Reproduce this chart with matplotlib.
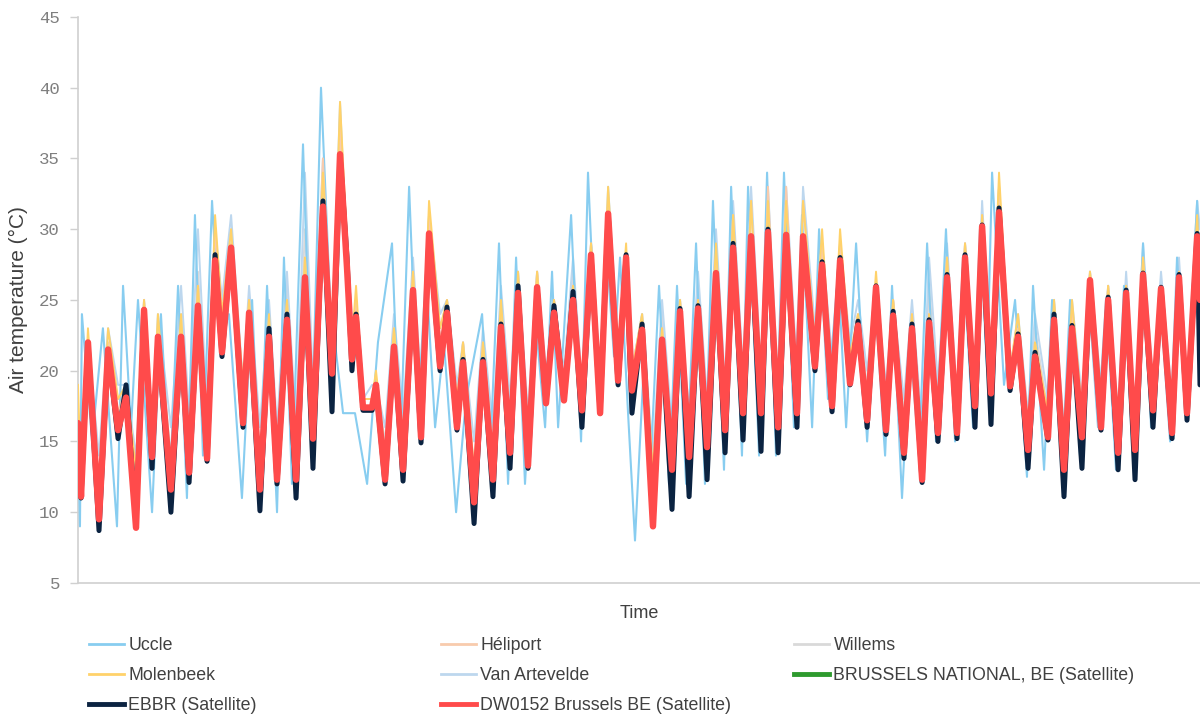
import numpy as np
import matplotlib
matplotlib.use("Agg")
import matplotlib.pyplot as plt
from matplotlib.lines import Line2D

# ---- data (time in days from start, temperature in degC) ----
# times of the daily highs / lows of the satellite series
t_sat = [0.00, 0.17, 0.56, 1.18, 1.69, 2.25, 2.70, 3.26, 3.71, 4.16,
         4.49, 5.22, 5.79, 6.24, 6.74, 7.25, 7.70, 8.09, 8.60, 9.27,
         9.61, 10.22, 10.73, 11.18, 11.74, 12.25, 12.75, 13.20, 13.76, 14.27,
         14.72, 15.11, 15.39, 15.62, 16.01, 16.52, 16.74, 17.25, 17.75, 18.26,
         18.82, 19.27, 19.72, 20.34, 20.73, 21.29, 21.63, 22.25, 22.75, 23.31,
         23.76, 24.27, 24.72, 25.28, 25.79, 26.29, 26.74, 27.30, 27.81, 28.31,
         28.82, 29.33, 29.78, 30.34, 30.79, 31.12, 31.69, 32.30, 32.81, 33.37,
         33.82, 34.33, 34.83, 35.34, 35.84, 36.35, 36.80, 37.36, 37.81, 38.37,
         38.76, 39.33, 39.78, 40.39, 40.73, 41.40, 41.80, 42.36, 42.81, 43.37,
         43.82, 44.33, 44.83, 45.39, 45.79, 46.40, 46.85, 47.42, 47.81, 48.31,
         48.82, 49.38, 49.83, 50.39, 50.79, 51.29, 51.74, 52.36, 52.81, 53.37,
         53.76, 54.49, 54.83, 55.39, 55.84, 56.40, 56.85, 57.47, 57.87, 58.43,
         58.88, 59.38, 59.83, 60.39, 60.84, 61.46, 61.85, 62.30, 62.87, 63.03]

dw0152 = [16.3, 11.1, 22.0, 9.5, 21.5, 15.8, 18.1, 8.9, 24.3, 13.9,
          22.4, 11.6, 22.4, 12.8, 24.6, 13.8, 27.8, 21.3, 28.7, 16.3,
          24.1, 11.6, 22.4, 12.3, 23.6, 12.3, 26.6, 15.2, 31.6, 19.8,
          35.3, 27.3, 20.8, 23.8, 17.4, 17.4, 19.0, 12.3, 21.7, 13.0,
          25.7, 15.3, 29.7, 20.3, 24.1, 16.0, 20.6, 10.7, 20.6, 12.3,
          23.1, 14.2, 25.5, 13.3, 25.9, 17.7, 24.1, 17.9, 25.0, 17.2,
          28.2, 17.0, 31.1, 19.3, 28.0, 18.6, 22.9, 9.0, 22.2, 13.0,
          24.2, 13.9, 24.4, 14.6, 26.9, 15.8, 28.7, 17.0, 29.5, 17.0,
          29.8, 16.0, 29.6, 17.0, 29.5, 20.3, 27.5, 17.5, 27.8, 19.1,
          23.2, 16.5, 25.9, 15.8, 23.9, 14.2, 23.0, 12.3, 23.4, 15.6,
          26.6, 15.6, 28.0, 17.5, 30.2, 18.4, 31.2, 18.9, 22.4, 14.4,
          21.0, 15.3, 23.6, 13.0, 23.0, 15.3, 26.4, 16.0, 25.0, 14.2,
          25.5, 14.4, 26.8, 17.2, 25.8, 15.6, 26.6, 17.0, 29.5, 25.0]

ebbr = [16.0, 11.0, 22.0, 8.7, 21.5, 15.2, 19.0, 9.2, 24.3, 13.1,
        22.4, 10.0, 22.4, 12.1, 24.6, 13.6, 28.2, 21.0, 28.7, 16.0,
        24.1, 10.1, 23.0, 12.0, 24.0, 11.0, 26.6, 13.1, 32.0, 17.1,
        35.3, 28.0, 20.0, 24.0, 17.2, 17.2, 19.0, 12.0, 21.7, 12.2,
        25.7, 14.9, 29.7, 20.0, 24.5, 15.8, 20.8, 9.2, 20.8, 11.1,
        23.3, 13.1, 26.0, 13.1, 25.9, 17.7, 24.6, 17.9, 25.6, 16.0,
        28.2, 17.0, 31.1, 19.0, 28.2, 17.0, 23.3, 9.2, 22.2, 10.2,
        24.4, 11.1, 24.6, 12.3, 26.9, 14.2, 29.0, 15.1, 29.5, 14.3,
        30.0, 14.2, 29.6, 16.0, 29.5, 20.0, 27.7, 17.1, 28.0, 19.0,
        23.5, 16.0, 26.0, 15.5, 24.2, 13.8, 23.3, 12.1, 23.6, 15.0,
        26.8, 15.2, 28.2, 16.0, 30.3, 16.2, 31.5, 18.6, 22.6, 13.1,
        21.3, 15.1, 24.0, 11.1, 23.2, 13.1, 26.4, 15.8, 25.2, 13.0,
        25.7, 12.3, 26.9, 16.0, 25.9, 15.2, 26.8, 16.5, 29.7, 19.0]

molenbeek = [19, 12, 23, 11, 23, 18, 19, 13, 25, 15,
             24, 13, 24, 14, 26, 15, 31, 24, 30, 19,
             25, 13, 24, 14, 25, 14, 28, 17, 34, 21,
             39, 29, 22, 26, 18, 18, 20, 14, 23, 15,
             27, 17, 32, 23, 25, 18, 22, 13, 22, 14,
             25, 16, 27, 15, 27, 19, 25, 19, 26, 18,
             29, 19, 33, 21, 29, 20, 24, 13, 23, 15,
             25, 15, 25, 16, 29, 17, 31, 18, 32, 18,
             32, 18, 32, 18, 32, 22, 30, 19, 30, 21,
             24, 18, 27, 17, 25, 16, 24, 14, 24, 17,
             28, 17, 29, 18, 31, 19, 34, 20, 24, 16,
             22, 17, 25, 15, 25, 17, 27, 18, 26, 16,
             26, 16, 28, 18, 26, 17, 27, 18, 31, 27]

van_artevelde = [17, 14, 22, 14, 23, 19, 19, 14, 25, 16,
                 24, 16, 26, 17, 30, 17, 30, 25, 31, 19,
                 26, 16, 25, 16, 27, 16, 34, 19, 35, 22,
                 39, 28, 21, 25, 18, 19, 19, 16, 24, 17,
                 28, 19, 31, 24, 25, 19, 22, 15, 23, 16,
                 26, 18, 27, 17, 27, 20, 25, 20, 28, 19,
                 29, 20, 33, 22, 27, 20, 24, 14, 25, 16,
                 25, 17, 27, 18, 30, 19, 32, 20, 33, 20,
                 33, 19, 33, 20, 33, 23, 29, 21, 29, 22,
                 25, 20, 26, 19, 25, 18, 25, 16, 28, 19,
                 29, 18, 29, 19, 32, 20, 33, 20, 24, 17,
                 24, 18, 25, 16, 25, 18, 27, 19, 26, 17,
                 27, 17, 29, 19, 27, 18, 28, 19, 32, 30]

heliport = [17, 12, 22, 11, 22, 17, 19, 12, 25, 15,
            23, 13, 23, 14, 26, 15, 30, 23, 29, 18,
            25, 13, 23, 14, 25, 14, 28, 17, 35, 21,
            37, 28, 22, 25, 18, 18, 19, 14, 23, 15,
            27, 17, 31, 22, 25, 17, 22, 12, 22, 14,
            24, 16, 26, 15, 27, 19, 25, 19, 26, 18,
            29, 18, 32, 21, 28, 20, 23, 12, 23, 14,
            25, 15, 25, 16, 28, 17, 31, 18, 32, 18,
            33, 17, 33, 18, 32, 22, 29, 19, 29, 21,
            24, 18, 26, 17, 25, 16, 24, 14, 24, 17,
            28, 17, 29, 18, 31, 19, 33, 19, 23, 16,
            22, 17, 24, 14, 24, 16, 27, 17, 26, 16,
            26, 16, 28, 18, 26, 17, 27, 18, 30, 27]

willems = [17, 13, 22, 12, 22, 18, 19, 13, 25, 15,
           23, 14, 24, 15, 27, 16, 30, 24, 30, 18,
           25, 14, 24, 15, 26, 15, 30, 18, 34, 21,
           38, 28, 22, 25, 18, 18, 19, 15, 23, 16,
           27, 18, 31, 23, 25, 18, 22, 13, 22, 15,
           25, 17, 27, 16, 27, 19, 25, 19, 27, 18,
           29, 19, 32, 21, 28, 20, 24, 13, 24, 15,
           25, 16, 26, 17, 29, 18, 31, 19, 32, 19,
           32, 18, 32, 19, 32, 22, 29, 20, 29, 21,
           24, 19, 26, 18, 25, 17, 24, 15, 26, 18,
           28, 17, 29, 18, 31, 19, 33, 20, 23, 16,
           23, 17, 25, 15, 24, 17, 27, 18, 26, 16,
           26, 16, 28, 18, 26, 17, 27, 18, 31, 28]

# Uccle has its own timing
t_uccle = [0.00, 0.11, 0.22, 0.79, 1.40, 2.19, 2.53, 2.98, 3.37, 4.16,
           4.66, 5.17, 5.62, 6.12, 6.57, 7.02, 7.53, 7.98, 8.48, 8.82,
           9.21, 9.78, 10.22, 10.62, 11.18, 11.57, 12.02, 12.64, 13.15, 13.65,
           14.16, 14.89, 15.56, 16.24, 16.85, 17.64, 18.09, 18.60, 19.10, 19.55,
           20.06, 20.56, 21.24, 21.80, 22.70, 23.15, 23.65, 24.16, 24.61, 25.11,
           25.67, 26.24, 26.63, 26.97, 27.70, 28.26, 28.65, 29.21, 29.72, 30.11,
           30.45, 30.90, 31.29, 31.85, 32.19, 32.64, 33.20, 33.65, 34.16, 34.72,
           35.22, 35.67, 36.29, 36.69, 37.30, 37.64, 38.26, 38.71, 39.21, 39.66,
           40.22, 40.67, 41.24, 41.63, 42.13, 42.70, 43.15, 43.71, 44.33, 44.78,
           45.34, 45.73, 46.29, 46.74, 47.25, 47.70, 48.20, 48.76, 49.27, 49.72,
           50.28, 50.67, 51.07, 51.35, 52.02, 52.64, 53.31, 53.65, 54.27, 54.72,
           55.28, 55.73, 56.29, 56.74, 57.30, 57.75, 58.31, 58.76, 59.27, 59.83,
           60.28, 60.79, 61.35, 61.74, 62.25, 62.87, 63.03]
uccle = [16, 9, 24, 15, 23, 9, 26, 16, 25, 10,
         24, 12, 26, 11, 31, 14, 32, 22, 24, 18,
         11, 25, 12, 26, 10, 28, 12, 36, 16, 40,
         25, 17, 17, 12, 22, 29, 14, 33, 17, 27,
         16, 22, 10, 18, 24, 14, 29, 12, 28, 12,
         24, 16, 27, 16, 31, 15, 34, 18, 28, 21,
         28, 17, 8, 22, 14, 26, 12, 26, 12, 29,
         12, 32, 13, 33, 14, 33, 14, 34, 14, 34,
         16, 31, 16, 30, 18, 27, 16, 29, 15, 25,
         14, 26, 11, 22, 14, 29, 15, 30, 15, 28,
         16, 30, 20, 34, 19, 25, 12.5, 26, 13, 25,
         13, 25, 14, 26, 16, 25, 13, 26, 14, 29,
         16, 25, 15, 28, 17, 32, 25]

yticks = [5, 10, 15, 20, 25, 30, 35, 40, 45]

# ---- figure ----
fig = plt.figure(figsize=(12, 7.16), dpi=100)
ax = fig.add_axes([0.065, 0.1858, 0.935, 0.7905])

ax.plot(t_sat, willems, color='#d9d9d9', lw=1.4, zorder=1)
ax.plot(t_sat, van_artevelde, color='#bdd7ee', lw=1.4, zorder=2)
ax.plot(t_uccle, uccle, color='#88cdf0', lw=1.5, zorder=3)
ax.plot(t_sat, heliport, color='#f8cbad', lw=1.4, zorder=4)
ax.plot(t_sat, molenbeek, color='#ffd26a', lw=1.4, zorder=5)
ax.plot(t_sat, ebbr, color='#0b2341', lw=3.6, zorder=6,
        solid_joinstyle='round', solid_capstyle='round')
ax.plot(t_sat, dw0152, color='#ff4b4b', lw=4.6, zorder=7,
        solid_joinstyle='round', solid_capstyle='round')

ax.set_xlim(0, 63.03)
ax.set_ylim(5, 45)
ax.set_yticks(yticks)
ax.set_xticks([])
for s in ['top', 'right']:
    ax.spines[s].set_visible(False)
for s in ['left', 'bottom']:
    ax.spines[s].set_color('#d0d0d0')
    ax.spines[s].set_linewidth(1.2)
ax.tick_params(axis='y', colors='#d0d0d0', length=6, width=1, pad=7,
               labelcolor='#7f7f7f', labelsize=12.5)
for lab in ax.get_yticklabels():
    lab.set_family('Liberation Mono')

ax.set_ylabel('Air temperature (°C)', fontsize=15, color='#404040',
              family='Liberation Sans', labelpad=8)
ax.set_xlabel('Time', fontsize=13, color='#404040',
              family='Liberation Sans', labelpad=16)

# ---- legend: three fixed columns ----
def handle(color, lw):
    return Line2D([0], [0], color=color, lw=lw)

columns = [
    (0.0685, [(handle('#88cdf0', 2), 'Uccle'),
              (handle('#ffd26a', 2), 'Molenbeek'),
              (handle('#0b2341', 3.5), 'EBBR (Satellite)')]),
    (0.3618, [(handle('#f8cbad', 2), 'Héliport'),
              (handle('#bdd7ee', 2), 'Van Artevelde'),
              (handle('#ff4b4b', 3.5), 'DW0152 Brussels BE (Satellite)')]),
    (0.6560, [(handle('#d9d9d9', 2), 'Willems'),
              (handle('#2e9a2e', 3.5), 'BRUSSELS NATIONAL, BE (Satellite)')]),
]
for x0, items in columns:
    leg = fig.legend([h for h, _ in items], [l for _, l in items],
                     loc='upper left', bbox_to_anchor=(x0, 0.120),
                     frameon=False, handlelength=1.95,
                     handletextpad=0.25, labelspacing=0.72, borderaxespad=0,
                     prop={'family': 'Liberation Sans', 'size': 12.8})
    for txt in leg.get_texts():
        txt.set_color('#404040')

fig.savefig('out.png', dpi=100)
